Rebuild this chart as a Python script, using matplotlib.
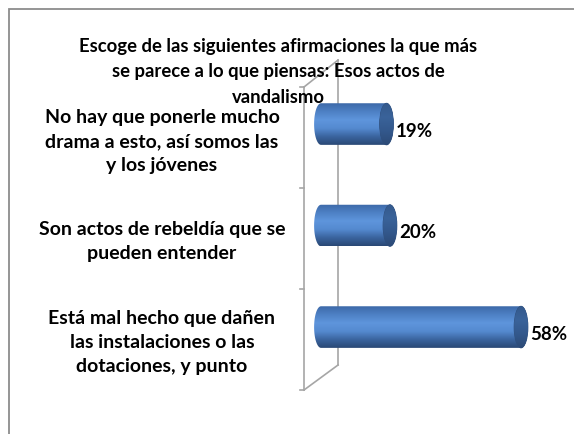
import matplotlib
matplotlib.use('Agg')

import numpy as np
import matplotlib.pyplot as plt
from matplotlib.path import Path
from matplotlib.patches import PathPatch, Ellipse, Rectangle
from matplotlib.colors import LinearSegmentedColormap
import matplotlib.transforms as mtransforms

plt.rcParams['font.family'] = ['Lato', 'DejaVu Sans']

title = 'Escoge de las siguientes afirmaciones la que más\nse parece a lo que piensas: Esos actos de\nvandalismo'
categories = [
    'Está mal hecho que dañen\nlas instalaciones o las\ndotaciones, y punto',
    'Son actos de rebeldía que se\npueden entender',
    'No hay que ponerle mucho\ndrama a esto, así somos las\ny los jóvenes',
]
values = [58, 20, 19]

fig = plt.figure(figsize=(5.74, 4.34), dpi=100)
fig.patch.set_facecolor('white')

# outer chart border (only top and left are visible)
fig.patches.append(Rectangle((9 / 574, -0.1), 1.2, 1 - 9 / 434 + 0.1,
                             transform=fig.transFigure, fill=False,
                             edgecolor='#8c8c8c', lw=1.3))

ax = fig.add_axes([304 / 574, 44 / 434, 256 / 574, 303 / 434])
ax.set_xlim(-4.93, 69.3)
ax.set_ylim(-0.62, 2.365)
ax.axis('off')

# 3D wall lines
wall = dict(transform=ax.transAxes, color='#a6a6a6', lw=1.2, clip_on=False)
bx, by0, by1 = 0.133, 0.0825, 1.089
ax.plot([0, 0], [0, 1], **wall)
ax.plot([bx, bx], [by0, by1], **wall)
ax.plot([0, bx], [0, by0], **wall)
ax.plot([0, bx], [1, by1], **wall)
for t in [0, 1 / 3, 2 / 3, 1]:
    ax.plot([-0.014, 0], [t, t], **wall)

cmap = LinearSegmentedColormap.from_list(
    'cyl', ['#2a4874', '#3a649e', '#558ad0', '#5e95dc', '#4d80c4', '#3d69a8'])
cap_cmap = LinearSegmentedColormap.from_list(
    'cap', ['#2c4a76', '#33588c', '#3a639a', '#34598c'])

bh = 0.41
ew = 2.0
grad = np.linspace(0, 1, 256).reshape(-1, 1)
th = np.linspace(np.pi / 2, 3 * np.pi / 2, 40)
rth = np.linspace(-np.pi / 2, np.pi / 2, 40)

for i, v in enumerate(values):
    y = i
    # outline: left half ellipse + body + right half ellipse
    lverts = np.column_stack([ew * np.cos(th), y + bh / 2 * np.sin(th)])
    rverts = np.column_stack([v + ew * np.cos(rth), y + bh / 2 * np.sin(rth)])
    verts = np.concatenate([lverts, rverts, lverts[:1]])
    patch = PathPatch(Path(verts, closed=True), facecolor='none', edgecolor='none')
    ax.add_patch(patch)
    im = ax.imshow(grad, cmap=cmap, aspect='auto', origin='lower',
                   extent=[-ew, v + ew, y - bh / 2, y + bh / 2], zorder=2)
    im.set_clip_path(patch)
    # end cap
    cap = Ellipse((v, y), 2 * ew, bh, facecolor='#36598a', edgecolor='#2f4f7d',
                  lw=0.6, zorder=3)
    ax.add_patch(cap)
    capim = ax.imshow(grad, cmap=cap_cmap, aspect='auto', origin='lower',
                      extent=[v - ew, v + ew, y - bh / 2, y + bh / 2], zorder=3)
    capim.set_clip_path(cap)
    ax.text(v + ew + 0.6, y - 0.07, f'{v}%', fontsize=13.5, fontweight='bold',
            ha='left', va='center', zorder=4)

lab_tr = mtransforms.blended_transform_factory(fig.transFigure, ax.transData)
for i, c in enumerate(categories):
    ax.text(162 / 574, i - 0.15 - 0.01 * i, c, transform=lab_tr, fontsize=14,
            fontweight='bold', ha='center', va='center', linespacing=1.5,
            multialignment='center')

fig.text(278 / 574, 1 - 72 / 434, title, fontsize=13.3, fontweight='bold',
         ha='center', va='center', linespacing=1.58, multialignment='center')

plt.savefig('out.png', dpi=100)
plt.close(fig)
